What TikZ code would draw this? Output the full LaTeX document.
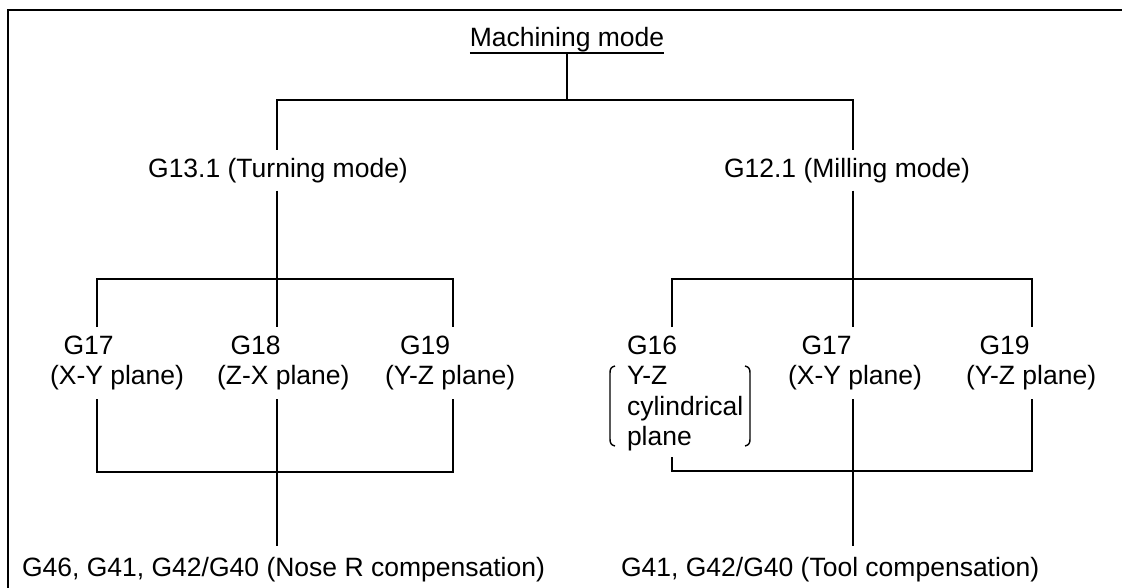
\documentclass[tikz,border=0pt]{standalone}
\usepackage{fontspec}
\setmainfont{Liberation Sans}
\usepackage{array}
\begin{document}
\begin{tikzpicture}[x=1pt,y=1pt,
  ln/.style={line width=1.6pt},
  frm/.style={line width=2.6pt},
  txt/.style={inner sep=0pt, outer xsep=0pt, font=\fontsize{26.5}{30.5}\selectfont},
  modelbl/.style={txt, anchor=base, outer ysep=8pt},
  plabel/.style={txt, anchor=base west, outer ysep=5.5pt},
  comp/.style={txt, anchor=base west, outer ysep=11pt},
]
\useasboundingbox (0,0) rectangle (1122,-587);
\clip (0,0) rectangle (1122,-587);
\draw[frm] (8,-600) -- (8,-10) -- (1130,-10);

% texts
\node[txt, anchor=base] (mm) at (567,-46) {Machining mode};
\node[modelbl] (turn) at (278,-177) {G13.1 (Turning mode)};
\node[modelbl] (mill) at (847,-177) {G12.1 (Milling mode)};

\node[plabel] (g17) at (50,-354) {\begin{tabular}[t]{@{}l@{}}\hspace*{13.5pt}G17\\(X-Y plane)\end{tabular}};
\node[plabel] (g18) at (217,-354) {\begin{tabular}[t]{@{}l@{}}\hspace*{13.5pt}G18\\(Z-X plane)\end{tabular}};
\node[plabel] (g19) at (385,-354) {\begin{tabular}[t]{@{}l@{}}\hspace*{15pt}G19\\(Y-Z plane)\end{tabular}};
\node[plabel] (g16) at (627,-354) {\begin{tabular}[t]{@{}l@{}}G16\\Y-Z\\cylindrical\\plane\end{tabular}};
\node[plabel] (g17r) at (788,-354) {\begin{tabular}[t]{@{}l@{}}\hspace*{13.5pt}G17\\(X-Y plane)\end{tabular}};
\node[plabel] (g19r) at (966,-354) {\begin{tabular}[t]{@{}l@{}}\hspace*{13.5pt}G19\\(Y-Z plane)\end{tabular}};

\node[comp] (nose) at (22,-576) {G46, G41, G42/G40 (Nose R compensation)};
\node[comp] (tool) at (621,-576) {G41, G42/G40 (Tool compensation)};

% junction coordinates
\coordinate (tl) at (277,-100);
\coordinate (tr) at (853,-100);
\coordinate (a1) at (97,-279);
\coordinate (a2) at (277,-279);
\coordinate (a3) at (453,-279);
\coordinate (b1) at (97,-472);
\coordinate (b3) at (453,-472);
\coordinate (c1) at (672,-279);
\coordinate (c2) at (853,-279);
\coordinate (c3) at (1032,-279);
\coordinate (d1) at (672,-471);
\coordinate (d3) at (1032,-471);
\path ([yshift=-7pt]mm.base) coordinate (mmu);

% underline and top level
\draw[ln] ([yshift=-7pt]mm.base west) -- ([yshift=-7pt]mm.base east);
\draw[ln] (mmu) -- (mmu |- tl);
\draw[ln] (turn.north -| tl) -- (tl) -- (tr) -- (mill.north -| tr);

% turning branch
\draw[ln] (turn.south -| a2) -- (g18.north -| a2);
\draw[ln] (g17.north -| a1) -- (a1) -- (a3) -- (g19.north -| a3);
\draw[ln] (g17.south -| b1) -- (b1) -- (b3) -- (g19.south -| b3);
\draw[ln] (g18.south -| a2) -- (nose.north -| a2);

% milling branch
\draw[ln] (mill.south -| c2) -- (g17r.north -| c2);
\draw[ln] (g16.north -| c1) -- (c1) -- (c3) -- (g19r.north -| c3);
\draw[ln] (d1 |- 0,-457) -- (d1) -- (d3) -- (g19r.south -| d3);
\draw[ln] (g17r.south -| c2) -- (tool.north -| c2);

% brackets around cylindrical plane
\draw[line width=1.4pt] (615,-366) .. controls (611,-367) and (610,-369) .. (610,-373) -- (610,-439) .. controls (610,-443) and (611,-445) .. (615,-446);
\draw[line width=1.4pt] (745,-366) .. controls (749,-367) and (750,-369) .. (750,-373) -- (750,-439) .. controls (750,-443) and (749,-445) .. (745,-446);
\end{tikzpicture}
\end{document}
